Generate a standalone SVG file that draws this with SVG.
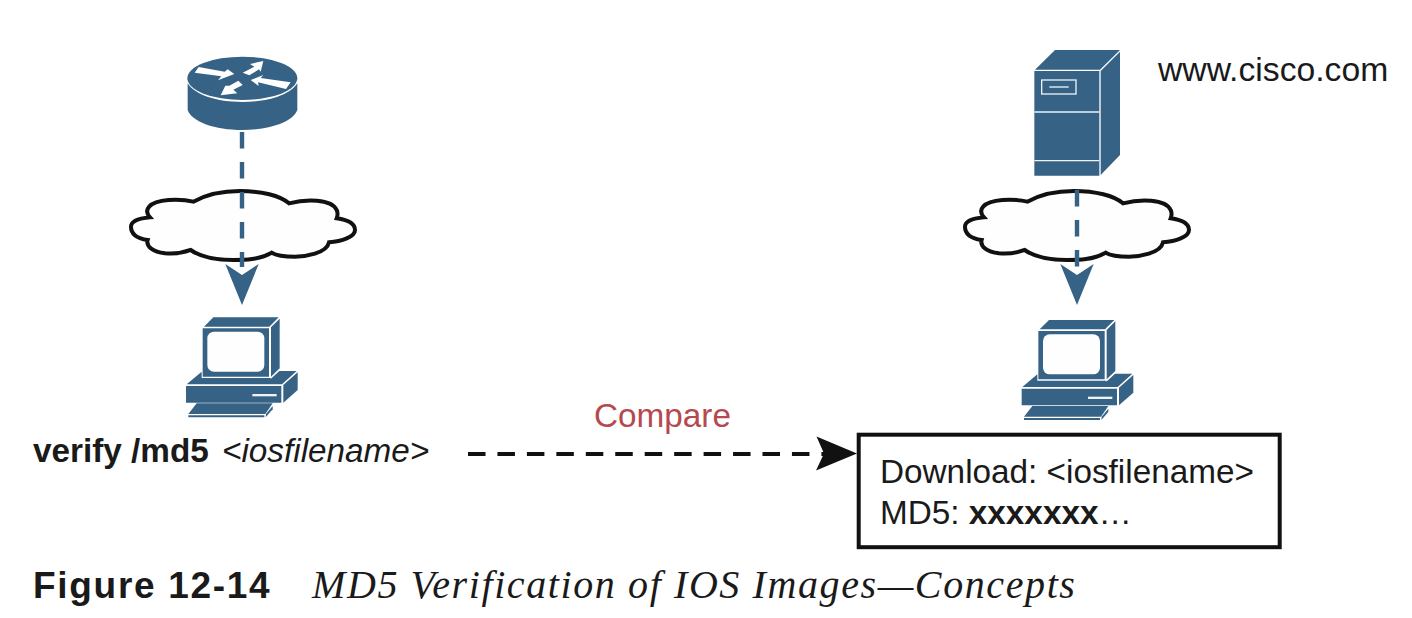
<svg xmlns="http://www.w3.org/2000/svg" width="1412" height="618" viewBox="0 0 1412 618">
<style>
.ic{fill:#366286}
.wl{stroke:#eef2f5;fill:none}
.cloud{fill:#fefefe;stroke:#111;stroke-width:12}
.blue{stroke:#366286;stroke-width:4.4;fill:none;stroke-dasharray:16.5 13.5}
.t{font-family:"Liberation Sans",Arial,sans-serif;font-size:33.3px;fill:#1a1a1a}
</style>
<defs>
<path id="cloudShape" d="M205 50C250 25 300 18 345 18C410 18 465 32 492 55C540 42 620 40 635 75C640 85 638 92 635 100C670 105 690 118 690 135C690 155 650 170 612 172C605 205 540 215 510 215C480 215 455 212 440 203C400 225 360 225 325 225C270 225 225 215 197 195C170 205 140 207 120 205C85 200 62 185 68 165C35 160 18 145 18 125C18 108 45 100 75 97C55 75 70 50 130 45C160 43 185 45 205 50Z"/>
<g id="pcShape">
<path class="ic" d="M280 832H476L448 860H252Z"/>
<path class="ic" d="M248 865H447V1010H248Z"/>
<rect x="262" y="875" width="171" height="120" rx="20" fill="#fefefe"/>
<path class="ic" d="M453 862L479 836V985L453 1010Z"/>
<path class="ic" d="M245 995V1014H452V1017L478 993H530L486 1033H200Z"/>
<path class="ic" d="M198 1038H484V1088H198Z"/>
<path class="ic" d="M490 1035L533 997V1050L490 1088Z"/>
<rect x="397" y="1062" width="73" height="7" fill="#eef2f5"/>
<path class="ic" d="M230 1090H458L436 1122H205Z"/>
<path class="ic" d="M205 1126H433V1132H205Z"/>
<path class="ic" d="M438 1122L458 1098V1108L437 1132Z"/>
</g>
</defs>
<rect width="1412" height="618" fill="#fff"/>
<g id="router" transform="translate(120 40) scale(.33333)">
<ellipse class="ic" cx="367" cy="115" rx="165" ry="65"/>
<path class="ic" d="M203 130C225 165 290 186 367 186C445 186 510 165 532 130V210C520 245 450 270 367 270C285 270 215 245 203 210Z"/>
<g fill="#fff">
<path d="M236 81L314 95 323 88 343 102 294 121 304 109 224 98Z"/>
<path d="M430 63L390 72 403 80 368 98 388 106 417 88 422 95Z"/>
<path d="M392 120L430 105 422 114 512 127 498 147 414 127 416 138Z"/>
<path d="M302 166L352 160 340 149 368 135 355 122 328 137 316 137Z"/>
</g>
</g>
<g id="cloud-left" transform="translate(125 185) scale(.33333)"><use href="#cloudShape" class="cloud"/></g>
<g id="cloud-right" transform="translate(959 185) scale(.33333)"><use href="#cloudShape" class="cloud"/></g>
<g id="pc-left" transform="translate(120 40) scale(.33333)"><use href="#pcShape"/></g>
<g id="pc-right" transform="translate(955.67 42.67) scale(.33333)"><use href="#pcShape"/></g>
<g id="server" transform="translate(1020 45) scale(.33333)">
<path class="ic" d="M45 74L105 15H300L240 74Z"/>
<path class="ic" d="M43 78H238V392H43Z"/>
<path class="ic" d="M242 78L300 20V330L242 390Z"/>
<path class="wl" stroke-width="4" d="M43 201H238M43 347H238"/>
<rect x="65" y="105" width="103" height="42" class="wl" stroke-width="4"/>
<path class="wl" stroke-width="4" d="M88 126H146"/>
</g>
<g id="connectors">
<path class="blue" d="M242 132V267"/>
<path class="ic" d="M225.300 264L242 275 258.700 264 242 305Z"/>
<path class="blue" d="M1077 190V267"/>
<path class="ic" d="M1060.300 264L1077 275 1093.700 264 1077 305Z"/>
<path d="M468 454H826" stroke="#111" stroke-width="4" stroke-dasharray="17.500 11.950" fill="none"/>
<path d="M816.500 436.500L857 453.500 816 470.500 824 453.500Z" fill="#111"/>
</g>
<g id="result-box">
<rect x="858.700" y="434.700" width="421" height="112.500" fill="#fff" stroke="#111" stroke-width="4"/>
<text class="t" x="880" y="483">Download: &lt;iosfilename&gt;</text>
<text class="t" x="880" y="524">MD5: <tspan font-weight="700">xxxxxxx</tspan>…</text>
</g>
<text class="t" x="1158" y="81" style="font-size:33.7px">www.cisco.com</text>
<text class="t" x="594" y="427" style="fill:#b5494e">Compare</text>
<text class="t" y="462"><tspan x="33" font-weight="700">verify /md5</tspan> <tspan x="222" font-style="italic">&lt;iosfilename&gt;</tspan></text>
<text x="33" y="598" font-family="Liberation Sans,Arial,sans-serif" font-weight="700" font-size="37" letter-spacing="1.7" fill="#1a1a1a">Figure 12-14</text>
<text x="312" y="598" font-family="Liberation Serif,Times New Roman,serif" font-style="italic" font-size="40" letter-spacing="1.6" fill="#1a1a1a">MD5 Verification of IOS Images—Concepts</text>
</svg>
